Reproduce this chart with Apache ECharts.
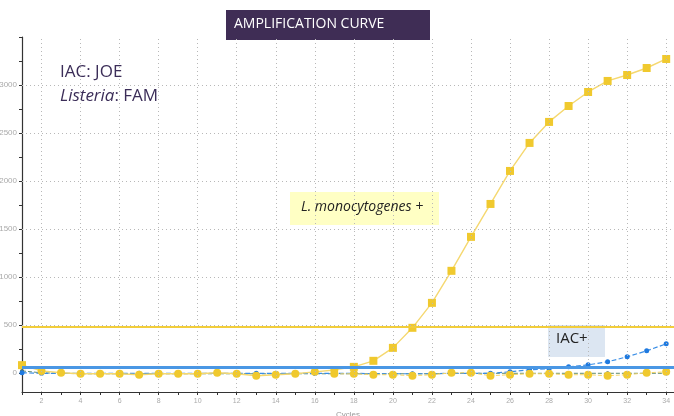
<!DOCTYPE html>
<html><head><meta charset="utf-8">
<script src="https://cdn.jsdelivr.net/npm/echarts@6/dist/echarts.min.js"></script>
<style>html,body{margin:0;padding:0;background:#fff}#c{width:674px;height:416px}</style>
</head><body><div id="c"></div>
<script>
const cycles = [1,2,3,4,5,6,7,8,9,10,11,12,13,14,15,16,17,18,19,20,21,22,23,24,25,26,27,28,29,30,31,32,33,34];
const xLabelValues = [2,4,6,8,10,12,14,16,18,20,22,24,26,28,30,32,34];
const yLabelValues = [0,500,1000,1500,2000,2500,3000];
const yTickValues = [0,250,500,750,1000,1250,1500,1750,2000,2250,2500,2750,3000,3250,3500];
const yGridValues = [500,1000,1500,2000,2500,3000];
// Listeria (FAM) positive sample
const famPositive = [80,20,0,-10,-10,-10,-20,-10,-10,-10,0,-10,-30,-20,-10,10,30,62,125,260,469,729,1063,1417,1760,2104,2396,2615,2781,2927,3042,3104,3177,3271];
// FAM negative sample (cycles 17..34)
const famNegCycles = [17,18,19,20,21,22,23,24,25,26,27,28,29,30,31,32,33,34];
const famNegative = [-10,-10,-20,-20,-30,-20,0,0,-30,-20,-10,-10,-20,-20,-30,-20,0,10];
// IAC (JOE)
const iacPositive = [0,-5,-5,-5,-5,-5,-5,-5,-5,-5,-5,-5,-5,-5,-5,-5,-5,-5,-10,-10,-10,-10,-5,-5,-5,10,31,42,62,83,115,167,229,302];
// JOE baseline sample
const joeFlat = [20,0,-5,-10,-10,-10,-10,-10,-10,-10,-10,-10,-10,-10,-10,-10,-10,-10,-10,-10,-10,-10,-5,-5,-5,-5,-5,-5,-5,-5,-5,-5,-5,-5];
const famThreshold = 480;
const iacThreshold = 55;

const pairs = (xs, ys) => xs.map((x, i) => [x, ys[i]]);
const gridStyle = {color: '#b8b8b8', width: 1, type: [1, 3]};

const chart = echarts.init(document.getElementById('c'));
chart.setOption({
  animation: false,
  grid: {left: 22, right: 0, top: 37, bottom: 24, containLabel: false, outerBoundsMode: 'none'},
  xAxis: {
    type: 'value', min: 1, max: 34.4,
    name: 'Cycles', nameLocation: 'middle', nameGap: 19,
    nameTextStyle: {fontSize: 8, color: '#999'},
    axisLine: {onZero: false, lineStyle: {color: '#333', width: 1.2}},
    axisTick: {customValues: cycles, length: 3, lineStyle: {color: '#333'}},
    axisLabel: {customValues: xLabelValues, fontSize: 7, color: '#aaa', margin: 6},
    splitLine: {show: false}
  },
  yAxis: {
    type: 'value', min: -200, max: 3500,
    axisLine: {show: true, lineStyle: {color: '#333', width: 1.2}},
    axisTick: {show: true, customValues: yTickValues, length: 3, lineStyle: {color: '#333'}},
    axisLabel: {customValues: yLabelValues, fontSize: 8, color: '#aaa', margin: 5, formatter: (v) => String(v)},
    splitLine: {show: false}
  },
  series: [
    {
      name: 'grid', type: 'line', data: [], silent: true,
      markLine: {symbol: 'none', label: {show: false}, lineStyle: gridStyle, animation: false,
        data: xLabelValues.map(v => ({xAxis: v})).concat(yGridValues.map(v => ({yAxis: v})))}
    },
    {
      name: 'FAM threshold', type: 'line', data: [], silent: true,
      markLine: {symbol: 'none', label: {show: false}, lineStyle: {color: '#f2cd3a', width: 2, type: 'solid'},
        data: [{yAxis: famThreshold}]}
    },
    {
      name: 'IAC threshold', type: 'line', data: [], silent: true,
      markLine: {symbol: 'none', label: {show: false}, lineStyle: {color: '#4a97e4', width: 3, type: 'solid'},
        data: [{yAxis: iacThreshold}]}
    },
    {
      name: 'JOE flat', type: 'line', data: pairs(cycles, joeFlat), clip: false,
      symbol: 'circle', symbolSize: 4,
      itemStyle: {color: '#4a6b5a'}, lineStyle: {color: '#5f8a70', width: 1, type: 'dashed'}
    },
    {
      name: 'IAC+', type: 'line', data: pairs(cycles, iacPositive), clip: false,
      symbol: 'circle', symbolSize: 5,
      itemStyle: {color: '#1f7ae0'}, lineStyle: {color: '#3a8ee6', width: 1.2, type: 'dashed'}
    },
    {
      name: 'FAM negative', type: 'line', data: pairs(famNegCycles, famNegative), clip: false,
      symbol: 'circle', symbolSize: 8,
      itemStyle: {color: '#f0c92e'}, lineStyle: {color: '#f3d466', width: 1, type: 'dashed'}
    },
    {
      name: 'L. monocytogenes +', type: 'line', data: pairs(cycles, famPositive), clip: false,
      symbol: (v) => v[1] > 40 ? 'rect' : 'circle', symbolSize: 8,
      itemStyle: {color: '#f0c92e'}, lineStyle: {color: '#f5d870', width: 1.4}
    }
  ],
  graphic: [
    {type: 'rect', left: 226, top: 10, shape: {width: 204, height: 30}, style: {fill: '#3f2d55'}},
    {type: 'text', left: 234, top: 17, style: {text: 'AMPLIFICATION CURVE', fill: '#fff', font: '14px "Open Sans", sans-serif'}},
    {type: 'text', left: 60, top: 64, style: {
      text: '{n|IAC: JOE}\n{i|Listeria}{n|: FAM}',
      rich: {n: {fill: '#3b2d58', font: '17px "Open Sans", sans-serif', lineHeight: 24},
             i: {fill: '#3b2d58', font: 'italic 17px "Open Sans", sans-serif', lineHeight: 24}}}},
    {type: 'rect', left: 290, top: 192, shape: {width: 149, height: 33}, style: {fill: '#ffffc4'}},
    {type: 'text', left: 301, top: 200, style: {text: 'L. monocytogenes +', fill: '#222', font: 'italic 14px "Open Sans", sans-serif'}},
    {type: 'rect', left: 548, top: 325, shape: {width: 57, height: 32}, style: {fill: '#dce6f2'}},
    {type: 'text', left: 556, top: 331, style: {text: 'IAC+', fill: '#222', font: '15px "Open Sans", sans-serif'}}
  ]
});
</script></body></html>
